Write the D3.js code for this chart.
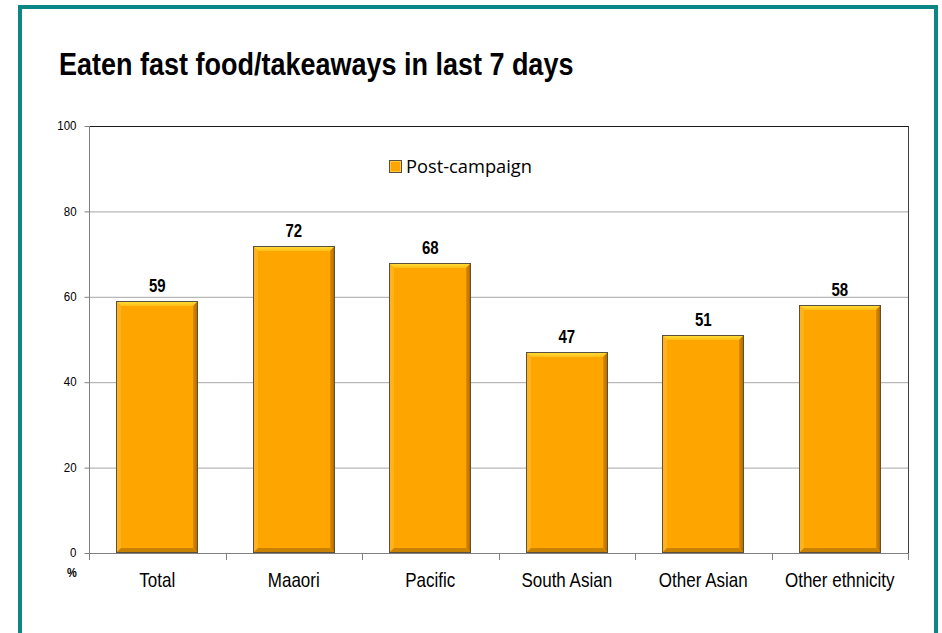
<!DOCTYPE html>
<html>
<head>
<meta charset="utf-8">
<script src="https://cdn.jsdelivr.net/npm/d3@7"></script>
<style>
  html, body { margin: 0; padding: 0; background: #ffffff; }
  svg { display: block; }
</style>
</head>
<body>
<svg id="chart" width="942" height="633"></svg>
<script>
// Share of people who ate fast food / takeaways in the last 7 days, by ethnicity
const categories = ["Total", "Maaori", "Pacific", "South Asian", "Other Asian", "Other ethnicity"];
const postCampaign = [59, 72, 68, 47, 51, 58];
const yTicks = [0, 20, 40, 60, 80, 100];
const seriesName = "Post-campaign";
const titleText = "Eaten fast food/takeaways in last 7 days";

const svg = d3.select("#chart");
const W = 942, H = 633;
const plot = { left: 89, right: 908, top: 126, bottom: 553 };
const FONT = "'Liberation Sans', Arial, sans-serif";

svg.append("rect").attr("width", W).attr("height", H).attr("fill", "#ffffff");

// teal slide frame
svg.append("rect")
  .attr("x", 20).attr("y", 7)
  .attr("width", 916).attr("height", 700)
  .attr("fill", "none")
  .attr("stroke", "#0b8585")
  .attr("stroke-width", 4);

// title (slightly tall glyphs)
svg.append("text")
  .attr("transform", "translate(59,75) scale(1,1.15)")
  .attr("font-family", FONT)
  .attr("font-weight", "bold")
  .attr("font-size", 27)
  .attr("fill", "#000")
  .text(titleText);

const x = d3.scaleBand().domain(categories).range([plot.left, plot.right]).padding(0);
const y = d3.scaleLinear().domain([0, 100]).range([plot.bottom, plot.top]);

// gridlines
svg.append("g").selectAll("line")
  .data(yTicks.filter(t => t > 0 && t < 100))
  .join("line")
  .attr("x1", plot.left).attr("x2", plot.right)
  .attr("y1", d => y(d) + 0.5).attr("y2", d => y(d) + 0.5)
  .attr("stroke", "#a6a6a6").attr("stroke-width", 1);

// plot border: top and right
svg.append("line")
  .attr("x1", plot.left).attr("x2", plot.right + 0.5)
  .attr("y1", y(100) + 0.5).attr("y2", y(100) + 0.5)
  .attr("stroke", "#1a1a1a");
svg.append("line")
  .attr("x1", plot.right + 0.5).attr("x2", plot.right + 0.5)
  .attr("y1", y(100)).attr("y2", plot.bottom)
  .attr("stroke", "#404040");

// left axis
const yAxis = d3.axisLeft(y).tickValues(yTicks).tickSize(5).tickPadding(8).tickFormat(d3.format("d"));
const gy = svg.append("g").attr("transform", `translate(${plot.left + 0.5},0)`).call(yAxis);
gy.select(".domain").attr("stroke", "#808080").attr("d", `M-0,${plot.top}V${plot.bottom + 7}`);
gy.selectAll(".tick line").attr("stroke", "#808080");
gy.selectAll(".tick text")
  .attr("font-family", FONT).attr("font-size", 11.5).attr("fill", "#000")
  .attr("transform", "scale(1,1.08)")
  .attr("y", function () { return 0; })
  .attr("dy", "0.32em");
// keep the stretched labels centred on their tick
gy.selectAll(".tick text").attr("transform", "translate(0,-0.3) scale(1,1.08)");

// bottom axis line with category boundary ticks
const gx = svg.append("g");
gx.append("line")
  .attr("x1", plot.left).attr("x2", plot.right + 1)
  .attr("y1", plot.bottom + 0.5).attr("y2", plot.bottom + 0.5)
  .attr("stroke", "#808080");
const bounds = categories.map(c => x(c)).concat([x(categories[categories.length - 1]) + x.bandwidth()]);
gx.selectAll("line.tk").data(bounds.slice(1)).join("line").attr("class", "tk")
  .attr("x1", d => Math.round(d) + 0.5).attr("x2", d => Math.round(d) + 0.5)
  .attr("y1", plot.bottom).attr("y2", plot.bottom + 7)
  .attr("stroke", "#808080");

// category labels
gx.selectAll("text.cat").data(categories).join("text").attr("class", "cat")
  .attr("transform", d => `translate(${x(d) + x.bandwidth() / 2},586.5) scale(1,1.14)`)
  .attr("text-anchor", "middle")
  .attr("font-family", FONT).attr("font-size", 17).attr("fill", "#000")
  .text(d => d);

// unit label under the value axis
svg.append("text")
  .attr("transform", "translate(72,577) scale(1,1.1)")
  .attr("text-anchor", "middle")
  .attr("font-family", FONT).attr("font-weight", "bold").attr("font-size", 11)
  .text("%");

// bevelled orange bars
const barW = x.bandwidth() * 0.6;
const bev = 5;
const defs = svg.append("defs");
const topGrad = defs.append("linearGradient").attr("id", "bevTop").attr("x1", 0).attr("x2", 0).attr("y1", 0).attr("y2", 1);
topGrad.append("stop").attr("offset", "0%").attr("stop-color", "#ffe040");
topGrad.append("stop").attr("offset", "100%").attr("stop-color", "#ffbf14");
const rightGrad = defs.append("linearGradient").attr("id", "bevRight").attr("x1", 0).attr("x2", 1).attr("y1", 0).attr("y2", 0);
rightGrad.append("stop").attr("offset", "0%").attr("stop-color", "#e08c00");
rightGrad.append("stop").attr("offset", "100%").attr("stop-color", "#a86400");

function drawBar(g, x0, y0, w, h) {
  const x1 = x0 + w, y1 = y0 + h;
  const b = Math.min(bev, h / 2);
  g.append("rect").attr("x", x0).attr("y", y0).attr("width", w).attr("height", h).attr("fill", "#ffa500");
  g.append("path").attr("d", `M${x0},${y0}L${x1},${y0}L${x1 - b},${y0 + b}L${x0 + b},${y0 + b}Z`).attr("fill", "url(#bevTop)");
  g.append("path").attr("d", `M${x0},${y0}L${x0 + b},${y0 + b}L${x0 + b},${y1 - b}L${x0},${y1}Z`).attr("fill", "#ffb21c");
  g.append("path").attr("d", `M${x1},${y0}L${x1},${y1}L${x1 - b},${y1 - b}L${x1 - b},${y0 + b}Z`).attr("fill", "url(#bevRight)");
  g.append("path").attr("d", `M${x0},${y1}L${x1},${y1}L${x1 - b},${y1 - b}L${x0 + b},${y1 - b}Z`).attr("fill", "#c98200");
  g.append("rect").attr("x", x0 + 0.5).attr("y", y0 + 0.5).attr("width", w - 1).attr("height", h - 1)
    .attr("fill", "none").attr("stroke", "#5a5040").attr("stroke-width", 1);
}

const bars = svg.append("g");
categories.forEach((c, i) => {
  const v = postCampaign[i];
  const bx = Math.round(x(c) + (x.bandwidth() - barW) / 2);
  const by = Math.round(y(v));
  drawBar(bars.append("g"), bx, by, Math.round(barW), Math.round(y(0)) - by);
});

// value labels
svg.append("g").selectAll("text").data(categories).join("text")
  .attr("transform", (d, i) => `translate(${x(d) + x.bandwidth() / 2},${y(postCampaign[i]) - 9}) scale(1,1.2)`)
  .attr("text-anchor", "middle")
  .attr("font-family", FONT).attr("font-weight", "bold").attr("font-size", 15)
  .attr("fill", "#000")
  .text((d, i) => postCampaign[i]);

// legend
const lg = svg.append("g");
lg.append("rect").attr("x", 389).attr("y", 160).attr("width", 13).attr("height", 13).attr("fill", "#ffa500");
lg.append("rect").attr("x", 390.5).attr("y", 161.5).attr("width", 10).attr("height", 10)
  .attr("fill", "none").attr("stroke", "#ffc83a").attr("stroke-width", 1);
lg.append("rect").attr("x", 389.5).attr("y", 160.5).attr("width", 12).attr("height", 12)
  .attr("fill", "none").attr("stroke", "#5a5040").attr("stroke-width", 1);
lg.append("text")
  .attr("x", 406).attr("y", 172.5)
  .attr("font-family", "'Open Sans', 'Noto Sans', sans-serif").attr("font-size", 18)
  .attr("textLength", 126).attr("lengthAdjust", "spacingAndGlyphs")
  .attr("fill", "#000")
  .text(seriesName);
</script>
</body>
</html>
